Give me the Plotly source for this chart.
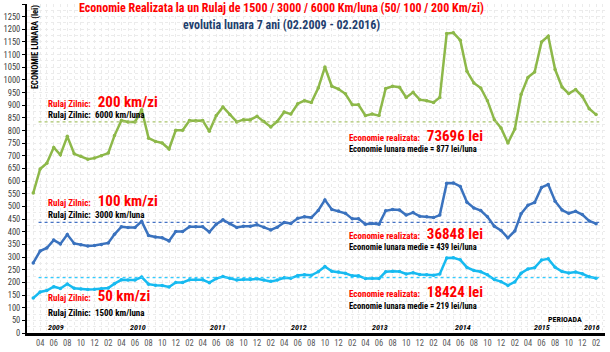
import plotly.graph_objects as go

# ---------------- data ----------------
months = [f"{2009 + (m // 12)}-{(m % 12) + 1:02d}-01" for m in range(2, 2 + 84)]  # 03.2009 .. 02.2016

eco_200 = [553, 648, 671, 733, 704, 777, 708, 698, 687, 691, 700, 711,
           780, 840, 834, 834, 882, 770, 757, 751, 727, 801, 801, 840,
           839, 840, 797, 859, 893, 863, 834, 843, 843, 856, 836, 814,
           836, 873, 865, 906, 918, 911, 968, 1051, 975, 964, 945, 902,
           902, 859, 865, 859, 966, 975, 971, 931, 951, 922, 918, 911,
           931, 1183, 1186, 1157, 1034, 988, 968, 918, 843, 810, 751, 806,
           942, 1010, 1031, 1150, 1173, 1041, 972, 946, 962, 935, 886, 863]

eco_100 = [277, 324, 336, 367, 352, 389, 354, 349, 344, 346, 350, 356,
           390, 420, 417, 417, 441, 385, 379, 376, 364, 401, 401, 420,
           420, 420, 399, 430, 447, 432, 417, 422, 422, 428, 418, 407,
           418, 437, 433, 453, 459, 456, 484, 526, 488, 482, 473, 451,
           451, 430, 433, 430, 483, 488, 486, 466, 476, 461, 459, 456,
           466, 592, 593, 579, 517, 494, 484, 459, 422, 405, 376, 403,
           471, 505, 516, 575, 587, 521, 486, 473, 481, 468, 443, 432]

eco_50 = [138, 162, 168, 183, 176, 194, 177, 174, 172, 173, 175, 178,
          195, 210, 209, 209, 221, 193, 189, 188, 182, 200, 200, 210,
          210, 210, 199, 215, 223, 216, 209, 211, 211, 214, 209, 204,
          209, 218, 216, 227, 230, 228, 242, 263, 244, 241, 236, 226,
          226, 215, 216, 215, 242, 244, 243, 233, 238, 231, 230, 228,
          233, 296, 297, 289, 259, 247, 242, 230, 211, 203, 188, 202,
          236, 253, 258, 288, 293, 260, 243, 237, 241, 234, 222, 216]

ref_levels = [834, 437, 219]          # dashed reference lines (200 / 100 / 50 km/zi)

tick_dates = months[1::2]
tick_labels = [d[5:7] for d in tick_dates]

year_labels = ["2009", "2010", "2011", "2012", "2013", "2014", "2015", "2016"]
year_pos = ["2009-06-10", "2010-06-15", "2011-06-10", "2012-06-05", "2013-06-05",
            "2014-06-15", "2015-06-05", "2016-01-15"]

daily_km = ["200", "100", "50"]
monthly_km = ["6000", "3000", "1500"]
totals = ["73696", "36848", "18424"]
monthly_avg = ["877", "439", "219"]

# ---------------- style ----------------
FONT = "Liberation Sans Narrow, Roboto Condensed, DejaVu Sans Condensed, Roboto, sans-serif"
C_GREEN = "#8DB849"
C_BLUE = "#3A72BE"
C_CYAN = "#17BAF0"
C_DASH = ["#A9C46E", "#4472C4", "#33CCFF"]

fig = go.Figure()
for ys, col in [(eco_200, C_GREEN), (eco_100, C_BLUE), (eco_50, C_CYAN)]:
    fig.add_trace(go.Scatter(x=months, y=ys, mode="lines+markers",
                             line=dict(color=col, width=2.5),
                             marker=dict(color=col, size=3.5),
                             showlegend=False, hoverinfo="x+y"))

for lvl, col in zip(ref_levels, C_DASH):
    fig.add_shape(type="line", xref="paper", yref="y", x0=0.02, x1=0.99, y0=lvl, y1=lvl,
                  line=dict(color=col, width=1.2, dash="dot"))

ann = []
# title
ann.append(dict(x=0.441, y=0.988, xref="paper", yref="paper", yanchor="middle",
                text="<b>Economie Realizata la un Rulaj de 1500 / 3000 / 6000 Km/luna (50/ 100 / 200 Km/zi)</b>",
                font=dict(family=FONT, size=12, color="#FF0000"), showarrow=False))
ann.append(dict(x=0.441, y=0.936, xref="paper", yref="paper", yanchor="middle",
                text="<b>evolutia lunara 7 ani (02.2009 - 02.2016)</b>",
                font=dict(family=FONT, size=12, color="#1F3F6E"), showarrow=False))

# y axis title
ann.append(dict(x=0.014, y=1130, xref="paper", yref="y", textangle=-90,
                text="<b>ECONOMIE LUNARA (lei)</b>", xanchor="center", yanchor="middle",
                font=dict(family=FONT, size=8.5, color="#000000"), showarrow=False))

# left labels
left_y = [(913, 862), (522, 467), (146, 80)]
for (yr, yb), dk, mk in zip(left_y, daily_km, monthly_km):
    ann.append(dict(x=0.033, y=yr, xref="paper", yref="y", xanchor="left", yanchor="middle",
                    text=f"<b><span style='font-size:9px'>Rulaj Zilnic:</span>  {dk} km/zi</b>",
                    font=dict(family=FONT, size=15, color="#FF0000"), showarrow=False))
    ann.append(dict(x=0.033, y=yb, xref="paper", yref="y", xanchor="left", yanchor="middle",
                    text=f"<b>Rulaj Zilnic:  {mk} km/luna</b>",
                    font=dict(family=FONT, size=9, color="#000000"), showarrow=False))

# right labels
right_y = [(778, 727), (391, 340), (163, 108)]
for (yr, yb), tot, avg in zip(right_y, totals, monthly_avg):
    ann.append(dict(x=0.553, y=yr, xref="paper", yref="y", xanchor="left", yanchor="middle",
                    text=f"<b><span style='font-size:9px'>Economie realizata:</span>  {tot} lei</b>",
                    font=dict(family=FONT, size=15, color="#FF0000"), showarrow=False))
    ann.append(dict(x=0.553, y=yb, xref="paper", yref="y", xanchor="left", yanchor="middle",
                    text=f"<b>Economie lunara medie = {avg} lei/luna</b>",
                    font=dict(family=FONT, size=8.5, color="#000000"), showarrow=False))

# years
for yl, yp in zip(year_labels, year_pos):
    ann.append(dict(x=yp, y=22, xref="x", yref="y", yanchor="middle",
                    text=f"<b><i>{yl}</i></b>",
                    font=dict(family=FONT, size=8, color="#000000"), showarrow=False))
ann.append(dict(x=0.963, y=55, xref="paper", yref="y", yanchor="middle",
                text="<b>PERIOADA</b>", font=dict(family=FONT, size=8, color="#000000"),
                showarrow=False))

fig.update_layout(
    width=610, height=352,
    margin=dict(l=23, r=5, t=4, b=19),
    paper_bgcolor="white", plot_bgcolor="white",
    font=dict(family=FONT),
    annotations=ann,
    xaxis=dict(type="date", range=["2009-02-01", "2016-03-12"],
               tickvals=tick_dates, ticktext=tick_labels,
               tickfont=dict(family=FONT, size=8.5, color="#595959"),
               showline=True, linecolor="#000000", linewidth=2.5,
               showgrid=True, gridcolor="#EBEBEB", gridwidth=1, griddash="dot",
               minor=dict(dtick="M1", showgrid=True, gridcolor="#EBEBEB", griddash="dot"),
               ticks="", zeroline=False),
    yaxis=dict(range=[0, 1300], dtick=50, tick0=0,
               tickfont=dict(family=FONT, size=8.5, color="#404040"),
               showline=True, linecolor="#000000", linewidth=2,
               ticks="outside", ticklen=3, tickcolor="#000000",
               showgrid=True, gridcolor="#EBEBEB", griddash="dot",
               minor=dict(dtick=25, showgrid=True, gridcolor="#EBEBEB", griddash="dot"),
               zeroline=False),
)

fig.write_html("out.html")
